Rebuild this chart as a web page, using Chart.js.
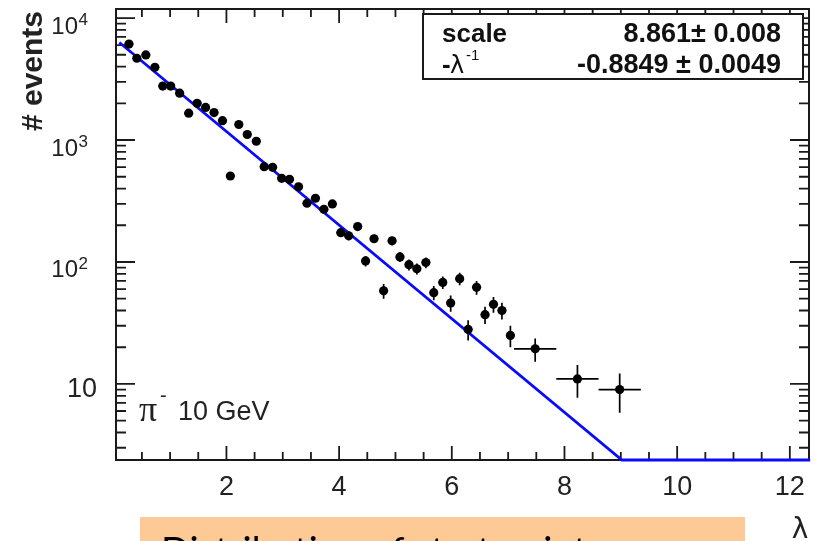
<!DOCTYPE html>
<html>
<head>
<meta charset="utf-8">
<script src="https://cdn.jsdelivr.net/npm/chart.js@4.4.1/dist/chart.umd.min.js"></script>
<style>
  html, body { margin: 0; padding: 0; background: #fff; overflow: hidden; }
  #lambdaChart { display: block; }
</style>
</head>
<body>
<canvas id="lambdaChart" width="817" height="541"></canvas>
<script>
// Start-point distribution (lambda), pi- at 10 GeV
const binCenters = [0.27, 0.41, 0.57, 0.73, 0.87, 1.01, 1.17, 1.33, 1.48, 1.63,
    1.78, 1.93, 2.07, 2.22, 2.37, 2.53, 2.67, 2.82, 2.98, 3.12,
    3.28, 3.43, 3.58, 3.73, 3.88, 4.03, 4.17, 4.33, 4.47, 4.62,
    4.79, 4.94, 5.08, 5.24, 5.38, 5.54, 5.68, 5.84, 5.98, 6.14,
    6.29, 6.44, 6.59, 6.74, 6.89, 7.04, 7.48, 8.23, 8.98];
const eventCounts = [6120, 4680, 4980, 3950, 2770, 2770, 2420, 1660, 2000, 1850,
    1680, 1440, 507, 1340, 1110, 977, 604, 597, 485, 476,
    414, 303, 333, 270, 299, 174, 164, 195, 102, 155,
    58, 149, 110, 95, 88, 99, 56, 68, 46, 73,
    28, 62, 37, 45, 40, 25, 19.4, 11, 9];
const countErrors = [78, 68, 71, 63, 53, 53, 49, 41, 45, 43,
    41, 38, 23, 37, 33, 31, 25, 24, 22, 22,
    20, 17, 18, 16, 17, 13, 13, 14, 10, 12,
    8, 12, 10, 10, 9, 10, 7.5, 8, 7, 8.5,
    5.3, 8, 6, 6.7, 6.3, 5, 4.2, 3.3, 3.2];
const binHalfWidths = [0.075, 0.075, 0.075, 0.075, 0.075, 0.075, 0.075, 0.075, 0.075, 0.075,
    0.075, 0.075, 0.075, 0.075, 0.075, 0.075, 0.075, 0.075, 0.075, 0.075,
    0.075, 0.075, 0.075, 0.075, 0.075, 0.075, 0.075, 0.075, 0.075, 0.075,
    0.075, 0.075, 0.075, 0.075, 0.075, 0.075, 0.075, 0.075, 0.075, 0.075,
    0.075, 0.075, 0.075, 0.075, 0.075, 0.075, 0.375, 0.375, 0.375];

// exponential fit, clipped at the bottom of the frame
const fitX = [0.1, 9.02, 12.36];
const fitY = [6300, 2.38, 2.38];

const xTickLabels = ['2', '4', '6', '8', '10', '12'];
const xTickValues = [2, 4, 6, 8, 10, 12];
const yDecades = [10, 100, 1000, 10000];
const yDecadeExponents = ['', '2', '3', '4'];

const fitParams = [
    ['scale', '8.861\u00b1 0.008'],
    ['-\u03bb', '-0.8849 \u00b1 0.0049']
];

const SANS = "'Liberation Sans', Arial, sans-serif";

// ROOT-like frame with inward ticks on all four sides
const framePlugin = {
    id: 'frame',
    beforeDatasetsDraw(chart) {
        const { ctx, chartArea: a, scales: { x, y } } = chart;
        ctx.save();
        ctx.strokeStyle = '#1a1a1a';
        ctx.lineWidth = 2;
        ctx.strokeRect(a.left, a.top, a.right - a.left, a.bottom - a.top);

        ctx.lineWidth = 1.8;
        ctx.beginPath();
        for (let v = 0.5; v <= x.max; v += 0.5) {
            const px = x.getPixelForValue(v);
            const len = (v % 2 === 0) ? 14 : 8;
            ctx.moveTo(px, a.bottom);
            ctx.lineTo(px, a.bottom - len);
            ctx.moveTo(px, a.top);
            ctx.lineTo(px, a.top + len);
        }
        yDecades.forEach(d => {
            for (let m = 1; m <= 9; m++) {
                const v = (d / 10) * m;
                if (v < y.min || v > y.max) continue;
                const py = y.getPixelForValue(v);
                const len = (m === 1) ? 19 : 10;
                ctx.moveTo(a.left, py);
                ctx.lineTo(a.left + len, py);
                ctx.moveTo(a.right, py);
                ctx.lineTo(a.right - len, py);
            }
        });
        if (y.max >= 10000) {
            const py = y.getPixelForValue(10000);
            ctx.moveTo(a.left, py); ctx.lineTo(a.left + 19, py);
            ctx.moveTo(a.right, py); ctx.lineTo(a.right - 19, py);
        }
        ctx.stroke();
        ctx.restore();
    }
};

// error bars for the data points
const errorBarPlugin = {
    id: 'errorBars',
    beforeDatasetsDraw(chart) {
        const { ctx, scales: { x, y } } = chart;
        ctx.save();
        ctx.strokeStyle = '#000';
        ctx.lineWidth = 1.7;
        ctx.beginPath();
        binCenters.forEach((cx, i) => {
            const px = x.getPixelForValue(cx);
            const py = y.getPixelForValue(eventCounts[i]);
            const top = y.getPixelForValue(eventCounts[i] + countErrors[i]);
            const bot = y.getPixelForValue(eventCounts[i] - countErrors[i]);
            ctx.moveTo(px, top);
            ctx.lineTo(px, bot);
            ctx.moveTo(x.getPixelForValue(cx - binHalfWidths[i]), py);
            ctx.lineTo(x.getPixelForValue(cx + binHalfWidths[i]), py);
        });
        ctx.stroke();
        ctx.restore();
    }
};

// axis labels, titles, fit box and caption
const labelPlugin = {
    id: 'labels',
    afterDraw(chart) {
        const { ctx, chartArea: a, scales: { x, y } } = chart;
        ctx.save();
        ctx.fillStyle = '#222';

        ctx.font = '27px ' + SANS;
        ctx.textAlign = 'center';
        ctx.textBaseline = 'alphabetic';
        xTickValues.forEach((v, i) => {
            ctx.fillText(xTickLabels[i], x.getPixelForValue(v), 495);
        });

        yDecades.forEach((d, i) => {
            const py = y.getPixelForValue(d);
            if (yDecadeExponents[i] === '') {
                ctx.font = '27px ' + SANS;
                ctx.textAlign = 'right';
                ctx.fillText('10', 97, py + 13);
            } else {
                ctx.font = '24px ' + SANS;
                ctx.textAlign = 'right';
                ctx.fillText('10', 78, py + 15.5);
                ctx.font = '17px ' + SANS;
                ctx.textAlign = 'left';
                ctx.fillText(yDecadeExponents[i], 78.5, py + 7);
            }
        });

        // y title
        ctx.save();
        ctx.translate(42, 71);
        ctx.rotate(-Math.PI / 2);
        ctx.font = 'bold 30px ' + SANS;
        ctx.textAlign = 'center';
        ctx.fillText('# events', 0, 0);
        ctx.restore();

        // x title
        ctx.font = "28px 'DejaVu Sans', sans-serif";
        ctx.textAlign = 'center';
        ctx.fillText('\u03bb', 800, 538);

        // particle label
        ctx.textAlign = 'left';
        ctx.font = "36px 'Liberation Serif', serif";
        ctx.fillText('\u03c0', 139, 421);
        ctx.font = '20px ' + SANS;
        ctx.fillText('-', 160, 402);
        ctx.font = '27px ' + SANS;
        ctx.fillText('10 GeV', 178, 420);

        // fit result box
        ctx.fillStyle = '#fff';
        ctx.fillRect(423, 14, 380, 65);
        ctx.strokeStyle = '#1a1a1a';
        ctx.lineWidth = 2;
        ctx.strokeRect(423, 14, 380, 65);
        ctx.fillStyle = '#111';
        ctx.font = 'bold 26px ' + SANS;
        ctx.textAlign = 'left';
        ctx.fillText(fitParams[0][0], 442, 42);
        ctx.fillText('-', 442, 73);
        ctx.font = "24px 'DejaVu Sans', sans-serif";
        ctx.fillText('\u03bb', 450, 73);
        ctx.font = '15px ' + SANS;
        ctx.fillText('-1', 466, 60);
        ctx.font = 'bold 27px ' + SANS;
        ctx.textAlign = 'right';
        ctx.fillText(fitParams[0][1], 781, 42);
        ctx.fillText(fitParams[1][1], 781, 73);

        // caption strip underneath
        ctx.fillStyle = '#fdc995';
        ctx.fillRect(140, 517, 605, 40);
        ctx.fillStyle = '#000';
        ctx.font = "38px Lato, 'Open Sans', sans-serif";
        ctx.textAlign = 'left';
        ctx.fillText('Distribution of start points', 161, 565);
        ctx.restore();
    }
};

const ctx = document.getElementById('lambdaChart').getContext('2d');
new Chart(ctx, {
    type: 'scatter',
    data: {
        datasets: [{
            label: 'data',
            data: binCenters.map((v, i) => ({ x: v, y: eventCounts[i] })),
            backgroundColor: '#000',
            borderWidth: 0,
            pointRadius: 4.6,
            pointHoverRadius: 4.6
        }, {
            label: 'fit',
            type: 'line',
            data: fitX.map((v, i) => ({ x: v, y: fitY[i] })),
            borderColor: '#0a0aff',
            borderWidth: 2.8,
            pointRadius: 0,
            fill: false,
            tension: 0,
            clip: 4
        }]
    },
    options: {
        responsive: false,
        animation: false,
        devicePixelRatio: 1,
        layout: { padding: { left: 116, right: 8, top: 9, bottom: 81 } },
        scales: {
            x: { type: 'linear', min: 0.04, max: 12.34, bounds: 'data', display: false },
            y: { type: 'logarithmic', min: 2.38, max: 11860, display: false }
        },
        plugins: {
            legend: { display: false },
            tooltip: { enabled: false }
        }
    },
    plugins: [framePlugin, errorBarPlugin, labelPlugin]
});
</script>
</body>
</html>
